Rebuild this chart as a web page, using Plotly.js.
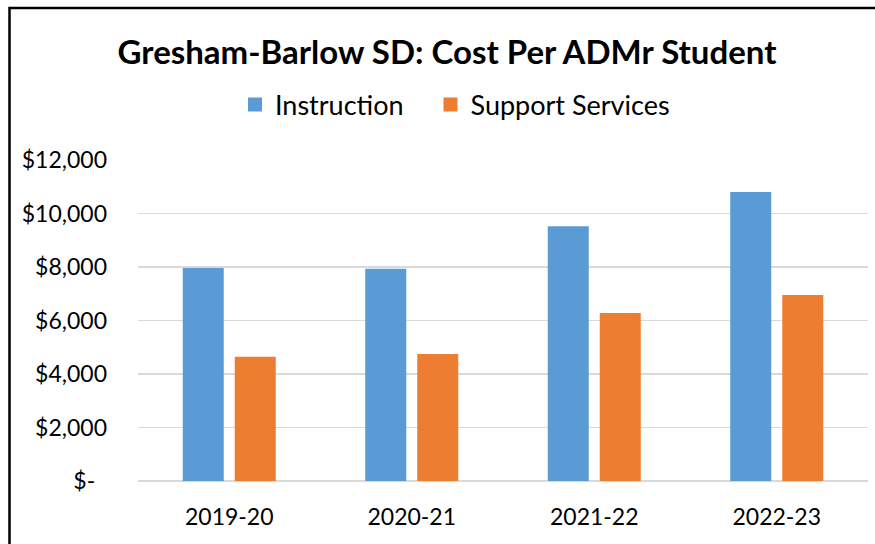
<!DOCTYPE html>
<html>
<head>
<meta charset="utf-8">
<script src="https://cdn.plot.ly/plotly-3.0.1.min.js"></script>
<style>
  html, body { margin: 0; padding: 0; background: #fff; }
  #chart { width: 875px; height: 544px; }
</style>
</head>
<body>
<div id="chart"></div>
<script>
const categories = ["2019-20", "2020-21", "2021-22", "2022-23"];
const instruction = [7925, 7900, 9485, 10765];
const supportServices = [4610, 4710, 6245, 6915];
const seriesNames = ["Instruction", "Support Services"];
const yTickVals = [0, 2000, 4000, 6000, 8000, 10000, 12000];
const yTickText = ["$-\u00a0\u00a0", "$2,000", "$4,000", "$6,000", "$8,000", "$10,000", "$12,000"];

const FONT = "Lato, 'Open Sans', sans-serif";

const traces = [
  {
    type: "bar", name: seriesNames[0], x: categories, y: instruction,
    marker: { color: "#5B9BD5", line: { color: "#5B9BD5", width: 2 } },
    hoverinfo: "x+y", legend: "legend"
  },
  {
    type: "bar", name: seriesNames[1], x: categories, y: supportServices,
    marker: { color: "#ED7D31", line: { color: "#ED7D31", width: 2 } },
    hoverinfo: "x+y", legend: "legend2"
  }
];

const legendCommon = {
  orientation: "h",
  xref: "container", xanchor: "left",
  yref: "container", y: 1 - 105/544, yanchor: "middle",
  font: { family: FONT, size: 27, color: "#000000" },
  bgcolor: "rgba(0,0,0,0)"
};

const layout = {
  width: 875, height: 544,
  margin: { l: 138, r: 7, t: 160, b: 63 },
  paper_bgcolor: "#ffffff", plot_bgcolor: "#ffffff",
  font: { family: FONT, color: "#000000", size: 23 },
  title: {
    text: "<b>Gresham-Barlow SD: Cost Per ADMr Student</b>",
    font: { family: FONT, size: 33, color: "#000000" },
    xref: "container", x: 447 / 875, xanchor: "center",
    yref: "container", y: 1 - 52/544, yanchor: "middle"
  },
  showlegend: true,
  legend: Object.assign({}, legendCommon, { x: 235 / 875 }),
  legend2: Object.assign({}, legendCommon, { x: 430.5 / 875 }),
  barmode: "group",
  bargap: 0.43,
  bargroupgap: 0.25,
  xaxis: {
    type: "category",
    tickfont: { family: FONT, size: 23, color: "#000000" },
    showgrid: false, showline: false, ticks: "",
    ticklabelstandoff: 20
  },
  yaxis: {
    range: [0, 12000],
    tickmode: "array", tickvals: yTickVals, ticktext: yTickText,
    tickfont: { family: FONT, size: 23, color: "#000000" },
    showgrid: true, gridcolor: "#d9d9d9", gridwidth: 1.5,
    zeroline: true, zerolinecolor: "#d9d9d9", zerolinewidth: 1.5,
    showline: false, ticks: "", ticklabelstandoff: 30
  },
  shapes: [
    {
      type: "rect", xref: "paper", yref: "paper",
      x0: (9.5 - 138) / 730, x1: (900 - 138) / 730,
      y0: -0.5, y1: 1 + (160 - 8) / 321,
      line: { color: "#000000", width: 2.5 }, fillcolor: "rgba(0,0,0,0)",
      layer: "above"
    }
  ]
};

Plotly.newPlot("chart", traces, layout, { displayModeBar: false, staticPlot: true });
</script>
</body>
</html>
